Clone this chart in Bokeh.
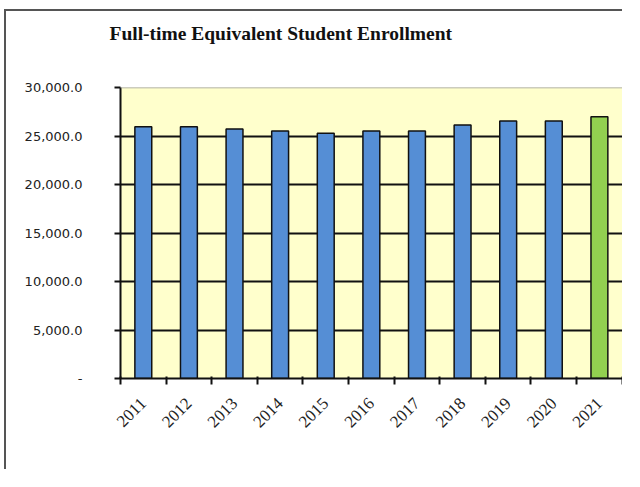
from bokeh.plotting import figure
from bokeh.models import (FixedTicker, LinearAxis, NumeralTickFormatter, Span, Range1d, Title)
from bokeh.embed import file_html
from bokeh.resources import INLINE

title_text = "Full-time Equivalent Student Enrollment"
years = ["2011", "2012", "2013", "2014", "2015", "2016", "2017", "2018", "2019", "2020", "2021"]
enrollment = [25960, 25960, 25730, 25520, 25290, 25520, 25520, 26140, 26550, 26550, 26990]
bar_colors = ["#558ED5"] * 10 + ["#92D050"]
y_ticks = [0, 5000, 10000, 15000, 20000, 25000, 30000]

xs = list(range(len(years)))
boundaries = [i - 0.5 for i in xs] + [len(xs) - 0.5]

p = figure(width=618, height=460, output_backend="svg", toolbar_location=None,
           title_location=None,
           x_range=Range1d(-0.5, 10.55), y_range=Range1d(0, 30000),
           min_border_left=114, min_border_right=0, min_border_top=75, min_border_bottom=93,
           x_axis_location=None, y_axis_location=None)
p.styles = {"margin-left": "4px", "margin-top": "9px",
            "border-left": "2px solid #555555", "border-top": "2px solid #555555"}

p.background_fill_color = "#FFFFCC"
p.border_fill_color = "white"
p.outline_line_color = None

p.vbar(x=xs, top=enrollment, width=0.37, fill_color=bar_colors,
       line_color="#111111", line_width=1.5)

# spacer between the plot area and the title (closest to the frame)
p.add_layout(Title(text=" ", text_font_size="1px", standoff=32), "above")
# chart title (outermost)
p.add_layout(Title(text=title_text, align="left", offset=-11,
                   text_font="Liberation Serif", text_font_size="19.5px",
                   text_font_style="bold", text_color="#111111", standoff=18), "above")

# y axis
yaxis = LinearAxis(ticker=FixedTicker(ticks=y_ticks),
                   formatter=NumeralTickFormatter(format="0,0.0"))
yaxis.major_label_overrides = {0: "-"}
yaxis.axis_line_color = "#111111"
yaxis.axis_line_width = 2
yaxis.major_tick_line_color = "#111111"
yaxis.major_tick_line_width = 2
yaxis.major_tick_out = 6
yaxis.major_tick_in = 0
yaxis.minor_tick_line_color = None
yaxis.major_label_standoff = 32
yaxis.major_label_text_font = "DejaVu Sans"
yaxis.major_label_text_font_size = "13px"
yaxis.major_label_text_color = "#222222"
p.add_layout(yaxis, "left")

# x axis: labels at category centres, tick marks (minor) at category boundaries
xaxis = LinearAxis(ticker=FixedTicker(ticks=xs, minor_ticks=boundaries))
xaxis.major_label_overrides = {i: y for i, y in enumerate(years)}
xaxis.major_label_orientation = 0.785398
xaxis.axis_line_color = "#111111"
xaxis.axis_line_width = 2
xaxis.major_tick_line_color = None
xaxis.minor_tick_line_color = "#111111"
xaxis.minor_tick_line_width = 2
xaxis.minor_tick_out = 6
xaxis.minor_tick_in = 2
xaxis.major_label_standoff = 16
xaxis.major_label_text_font = "Liberation Serif"
xaxis.major_label_text_font_size = "17px"
xaxis.major_label_text_color = "#222222"
p.add_layout(xaxis, "below")

p.xgrid.visible = False
p.ygrid.ticker = FixedTicker(ticks=[5000, 10000, 15000, 20000, 25000])
p.ygrid.grid_line_color = "#111111"
p.ygrid.grid_line_width = 1.8

p.add_layout(Span(location=30000, dimension="width", line_color="#999999", line_width=1.5))

open("out.html", "w").write(file_html(p, INLINE))
